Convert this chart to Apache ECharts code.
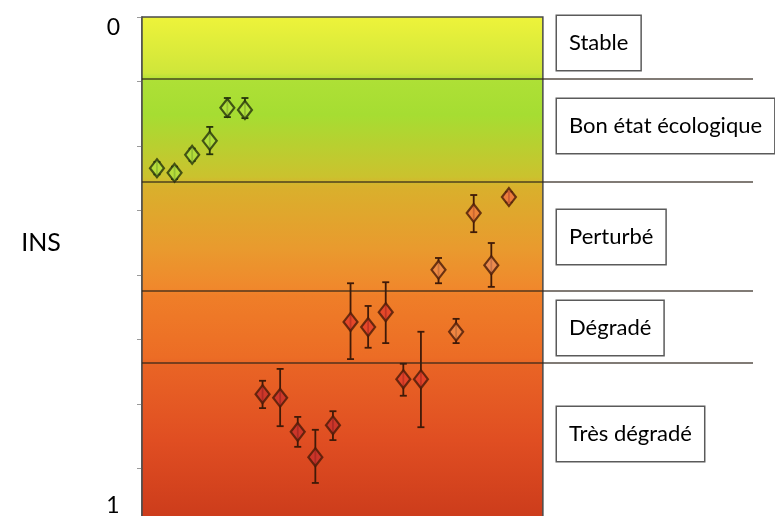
<!DOCTYPE html>
<html>
<head>
<meta charset="utf-8">
<script src="https://cdn.jsdelivr.net/npm/echarts@6/dist/echarts.min.js"></script>
<style>
  html, body { margin: 0; padding: 0; background: #ffffff; }
  #chart { width: 775px; height: 516px; }
</style>
</head>
<body>
<div id="chart"></div>
<script>
// Sampling sites, in order along the survey
const sites = [1, 2, 3, 4, 5, 6, 7, 8, 9, 10, 11, 12, 13, 14, 15, 16, 17, 18, 19, 20, 21];
// INS index value per site (0 = best, 1 = worst)
const ins = [0.293, 0.302, 0.267, 0.240, 0.176, 0.180, 0.731, 0.738, 0.804, 0.853, 0.791,
             0.591, 0.601, 0.572, 0.702, 0.702, 0.490, 0.610, 0.380, 0.481, 0.349];
// lower / upper bounds of the error bars
const insLow = [0.281, 0.290, 0.255, 0.213, 0.157, 0.157, 0.705, 0.682, 0.775, 0.800, 0.764,
                0.516, 0.560, 0.514, 0.672, 0.610, 0.467, 0.585, 0.345, 0.438, 0.339];
const insHigh = [0.305, 0.314, 0.279, 0.266, 0.194, 0.196, 0.758, 0.793, 0.833, 0.903, 0.820,
                 0.663, 0.641, 0.632, 0.734, 0.795, 0.516, 0.632, 0.417, 0.523, 0.359];
// class boundaries on the INS scale
const thresholds = [0.122, 0.321, 0.527, 0.665];
const classLabels = ['Stable', 'Bon état écologique', 'Perturbé', 'Dégradé', 'Très dégradé'];
const axisEndLabels = ['0', '1'];
const axisTitle = 'INS';

// marker styling, one entry per site
const markerFill = ['#b2e23e', '#b2e23e', '#b2e23e', '#b2e23e', '#b2e23e', '#b2e23e',
                    '#c8302c', '#c8302c', '#c8302c', '#c8302c', '#c8302c',
                    '#e23c2a', '#e23c2a', '#e23c2a', '#e23c2a', '#e23c2a',
                    '#ef8a48', '#ef8a48', '#f07a3c', '#ea8a58', '#ef7040'];
const markerEdge = sites.map((s, i) => i < 6 ? '#26330c' : '#4a1a08');

// x scale: 17.6 px per site, grid widened so the class lines run past the plot
const xMin = 0.15;
const xMax = 34.87;
const xPlotEnd = 22.93;

const chart = echarts.init(document.getElementById('chart'), null, { renderer: 'canvas' });

const labelFont = '22px Lato';
const labelBoxes = [
  { text: classLabels[0], y: 16 },
  { text: classLabels[1], y: 99 },
  { text: classLabels[2], y: 210 },
  { text: classLabels[3], y: 301 },
  { text: classLabels[4], y: 407 }
];

const option = {
  backgroundColor: '#ffffff',
  animation: false,
  grid: { left: 142, top: 17, width: 611, height: 516, containLabel: false, outerBoundsMode: 'none' },
  xAxis: {
    type: 'value', min: xMin, max: xMax,
    show: true,
    axisLine: { show: false }, axisTick: { show: false },
    axisLabel: { show: false }, splitLine: { show: false }
  },
  yAxis: {
    type: 'value', min: 0, max: 1, interval: 0.125, inverse: true,
    axisLine: { show: true, onZero: false, lineStyle: { color: '#555', width: 1.5 } },
    axisTick: { show: true, length: 5, lineStyle: { color: '#9a9a9a', width: 1 } },
    axisLabel: { show: false },
    splitLine: { show: false }
  },
  graphic: [
    { type: 'text', style: { x: 113.5, y: 27.5, text: axisEndLabels[0], font: '23px Lato', fill: '#000', textAlign: 'center', textVerticalAlign: 'middle' } },
    { type: 'text', style: { x: 113, y: 506, text: axisEndLabels[1], font: '23px Lato', fill: '#000', textAlign: 'center', textVerticalAlign: 'middle' } },
    { type: 'text', style: { x: 41, y: 243, text: axisTitle, font: '25px Lato', fill: '#000', textAlign: 'center', textVerticalAlign: 'middle' } }
  ].concat(labelBoxes.map(b => ({
    type: 'text', z: 10,
    style: {
      x: 557, y: b.y, text: b.text, font: labelFont, fill: '#000',
      textAlign: 'left', textVerticalAlign: 'top',
      lineHeight: 24, padding: [15, 12, 15, 12],
      backgroundColor: '#ffffff', borderColor: '#5a5a5a', borderWidth: 1.5
    }
  }))),
  series: [
    {
      // coloured background of the plot
      type: 'line', data: [], z: 0, silent: true,
      markArea: {
        silent: true,
        itemStyle: {
          color: {
            type: 'linear', x: 0, y: 0, x2: 0, y2: 1,
            colorStops: [
              { offset: 0.0, color: '#eef33a' },
              { offset: 0.11, color: '#cfe63a' },
              { offset: 0.123, color: '#aee036' },
              { offset: 0.19, color: '#a6dd32' },
              { offset: 0.31, color: '#cbc22e' },
              { offset: 0.33, color: '#d9b02c' },
              { offset: 0.45, color: '#e99a2e' },
              { offset: 0.525, color: '#f0882c' },
              { offset: 0.54, color: '#ef7e28' },
              { offset: 0.66, color: '#ec6c25' },
              { offset: 0.675, color: '#e96425' },
              { offset: 0.82, color: '#e04e22' },
              { offset: 1.0, color: '#c8381a' }
            ]
          },
          borderColor: '#4a4a4a', borderWidth: 1.5
        },
        data: [[{ coord: [xMin, 0] }, { coord: [xPlotEnd, 1] }]]
      }
    },
    {
      // class boundaries
      type: 'line', data: [], z: 2, silent: true,
      markLine: {
        silent: true, symbol: ['none', 'none'],
        label: { show: false },
        lineStyle: { color: 'rgba(45,35,25,0.8)', width: 1.6, type: 'solid' },
        data: thresholds.map(v => ({ yAxis: v }))
      }
    },
    {
      // error bars
      type: 'custom', z: 3,
      data: sites.map((s, i) => [s, insLow[i], insHigh[i]]),
      renderItem: function (params, api) {
        const x = api.value(0);
        const pLo = api.coord([x, api.value(1)]);
        const pHi = api.coord([x, api.value(2)]);
        const w = 3.5;
        const style = { stroke: params.dataIndex < 6 ? '#26330c' : '#3f1a08', lineWidth: 1.8 };
        return {
          type: 'group',
          children: [
            { type: 'line', shape: { x1: pLo[0], y1: pLo[1], x2: pHi[0], y2: pHi[1] }, style: style },
            { type: 'line', shape: { x1: pLo[0] - w, y1: pLo[1], x2: pLo[0] + w, y2: pLo[1] }, style: style },
            { type: 'line', shape: { x1: pHi[0] - w, y1: pHi[1], x2: pHi[0] + w, y2: pHi[1] }, style: style }
          ]
        };
      }
    },
    {
      // site means
      type: 'scatter', z: 4,
      symbol: 'diamond', symbolSize: [14, 18],
      data: sites.map((s, i) => ({
        value: [s, ins[i]],
        itemStyle: { color: markerFill[i], borderColor: markerEdge[i], borderWidth: 2.2 }
      }))
    }
  ]
};

chart.setOption(option);
</script>
</body>
</html>
